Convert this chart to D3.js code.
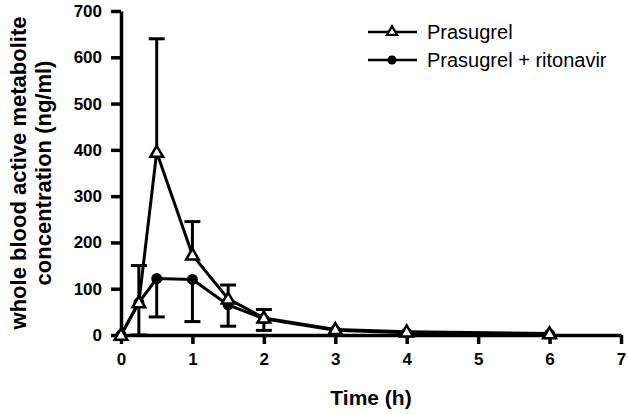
<!DOCTYPE html>
<html>
<head>
<meta charset="utf-8">
<script src="https://cdn.jsdelivr.net/npm/d3@7"></script>
<style>
  body { margin: 0; background: #fff; }
  text { font-family: "Liberation Sans", Arial, sans-serif; }
</style>
</head>
<body>
<div id="chart"></div>
<script>
// time points (h)
var times = [0, 0.25, 0.5, 1, 1.5, 2, 3, 4, 6];
// Prasugrel alone: mean and SD (drawn upward)
var prasMean = [0, 70, 395, 173, 78, 37, 12, 7, 3];
var prasSd   = [0, 80, 245, 72, 30, 18, 0, 0, 0];
// Prasugrel + ritonavir: mean and SD (drawn downward)
var ritoMean = [0, 70, 122, 120, 65, 35, 10, 5, 2];
var ritoSd   = [0, 70, 83, 91, 46, 25, 0, 0, 0];

var xTicks = [0, 1, 2, 3, 4, 5, 6, 7];
var yTicks = [0, 100, 200, 300, 400, 500, 600, 700];
var seriesNames = ["Prasugrel", "Prasugrel + ritonavir"];

var width = 628, height = 414;
var margin = {top: 11, right: 7, bottom: 79, left: 121};

var svg = d3.select("#chart").append("svg")
    .attr("width", width)
    .attr("height", height);

var x = d3.scaleLinear().domain([0, 7]).range([margin.left, width - margin.right]);
var y = d3.scaleLinear().domain([0, 700]).range([height - margin.bottom, margin.top]);

// axes
var xAxis = svg.append("g")
    .attr("transform", "translate(0," + y(0) + ")")
    .call(d3.axisBottom(x).tickValues(xTicks).tickFormat(d3.format("d"))
        .tickSize(9).tickPadding(9).tickSizeOuter(0));
var yAxis = svg.append("g")
    .attr("transform", "translate(" + x(0) + ",0)")
    .call(d3.axisLeft(y).tickValues(yTicks).tickSize(10).tickPadding(9).tickSizeOuter(0));

[xAxis, yAxis].forEach(function(g) {
    g.select(".domain").attr("stroke", "#000").attr("stroke-width", 3.5);
    g.selectAll(".tick line").attr("stroke", "#000").attr("stroke-width", 3.5);
    g.selectAll(".tick text")
        .attr("fill", "#000")
        .style("font-size", "17px")
        .style("font-weight", "bold")
        .style("font-family", "'Liberation Sans', Arial, sans-serif");
});

// axis titles
svg.append("text")
    .attr("x", x(3.5))
    .attr("y", 405)
    .attr("text-anchor", "middle")
    .style("font-size", "21px")
    .style("font-weight", "bold")
    .text("Time (h)");

var yTitle = svg.append("text")
    .attr("transform", "translate(26," + y(350) + ") rotate(-90)")
    .attr("text-anchor", "middle")
    .style("font-size", "22px")
    .style("font-weight", "bold");
yTitle.append("tspan").attr("x", 0).attr("dy", 0).text("whole blood active metabolite");
yTitle.append("tspan").attr("x", 0).attr("dy", 25).text("concentration (ng/ml)");

var pras = times.map(function(t, i) { return {t: t, m: prasMean[i], sd: prasSd[i]}; });
var rito = times.map(function(t, i) { return {t: t, m: ritoMean[i], sd: ritoSd[i]}; });

var line = d3.line()
    .x(function(d) { return x(d.t); })
    .y(function(d) { return y(d.m); });

var capW = 8;

function drawErrors(data, dir) {
    var g = svg.append("g").attr("stroke", "#000").attr("stroke-width", 3);
    var e = data.filter(function(d) { return d.sd > 0; });
    g.selectAll(".bar").data(e).enter().append("line")
        .attr("x1", function(d) { return x(d.t); })
        .attr("x2", function(d) { return x(d.t); })
        .attr("y1", function(d) { return y(d.m); })
        .attr("y2", function(d) { return y(d.m + dir * d.sd); });
    g.selectAll(".cap").data(e).enter().append("line")
        .attr("x1", function(d) { return x(d.t) - capW; })
        .attr("x2", function(d) { return x(d.t) + capW; })
        .attr("y1", function(d) { return y(d.m + dir * d.sd); })
        .attr("y2", function(d) { return y(d.m + dir * d.sd); });
}

drawErrors(pras, 1);
drawErrors(rito, -1);

svg.append("path").datum(rito)
    .attr("fill", "none").attr("stroke", "#000").attr("stroke-width", 3)
    .attr("d", line);
svg.append("path").datum(pras)
    .attr("fill", "none").attr("stroke", "#000").attr("stroke-width", 3)
    .attr("d", line);

var tri = d3.symbol().type(d3.symbolTriangle).size(70);

svg.selectAll(".dot").data(rito).enter().append("circle")
    .attr("cx", function(d) { return x(d.t); })
    .attr("cy", function(d) { return y(d.m); })
    .attr("r", 5.5)
    .attr("fill", "#000");

svg.selectAll(".tri").data(pras).enter().append("path")
    .attr("d", tri)
    .attr("transform", function(d) { return "translate(" + x(d.t) + "," + (y(d.m) + 1) + ")"; })
    .attr("fill", "#fff")
    .attr("stroke", "#000")
    .attr("stroke-width", 2.5);

// legend
var legend = svg.append("g");
seriesNames.forEach(function(name, i) {
    var ly = 32 + i * 28;
    legend.append("line")
        .attr("x1", 368).attr("x2", 417)
        .attr("y1", ly).attr("y2", ly)
        .attr("stroke", "#000").attr("stroke-width", 2.5);
    if (i === 0) {
        legend.append("path")
            .attr("d", d3.symbol().type(d3.symbolTriangle).size(45))
            .attr("transform", "translate(392," + ly + ")")
            .attr("fill", "#fff").attr("stroke", "#000").attr("stroke-width", 2.2);
    } else {
        legend.append("circle")
            .attr("cx", 392).attr("cy", ly).attr("r", 4.5).attr("fill", "#000");
    }
    legend.append("text")
        .attr("x", 427).attr("y", ly + 7)
        .style("font-size", "20px")
        .text(name);
});
</script>
</body>
</html>
